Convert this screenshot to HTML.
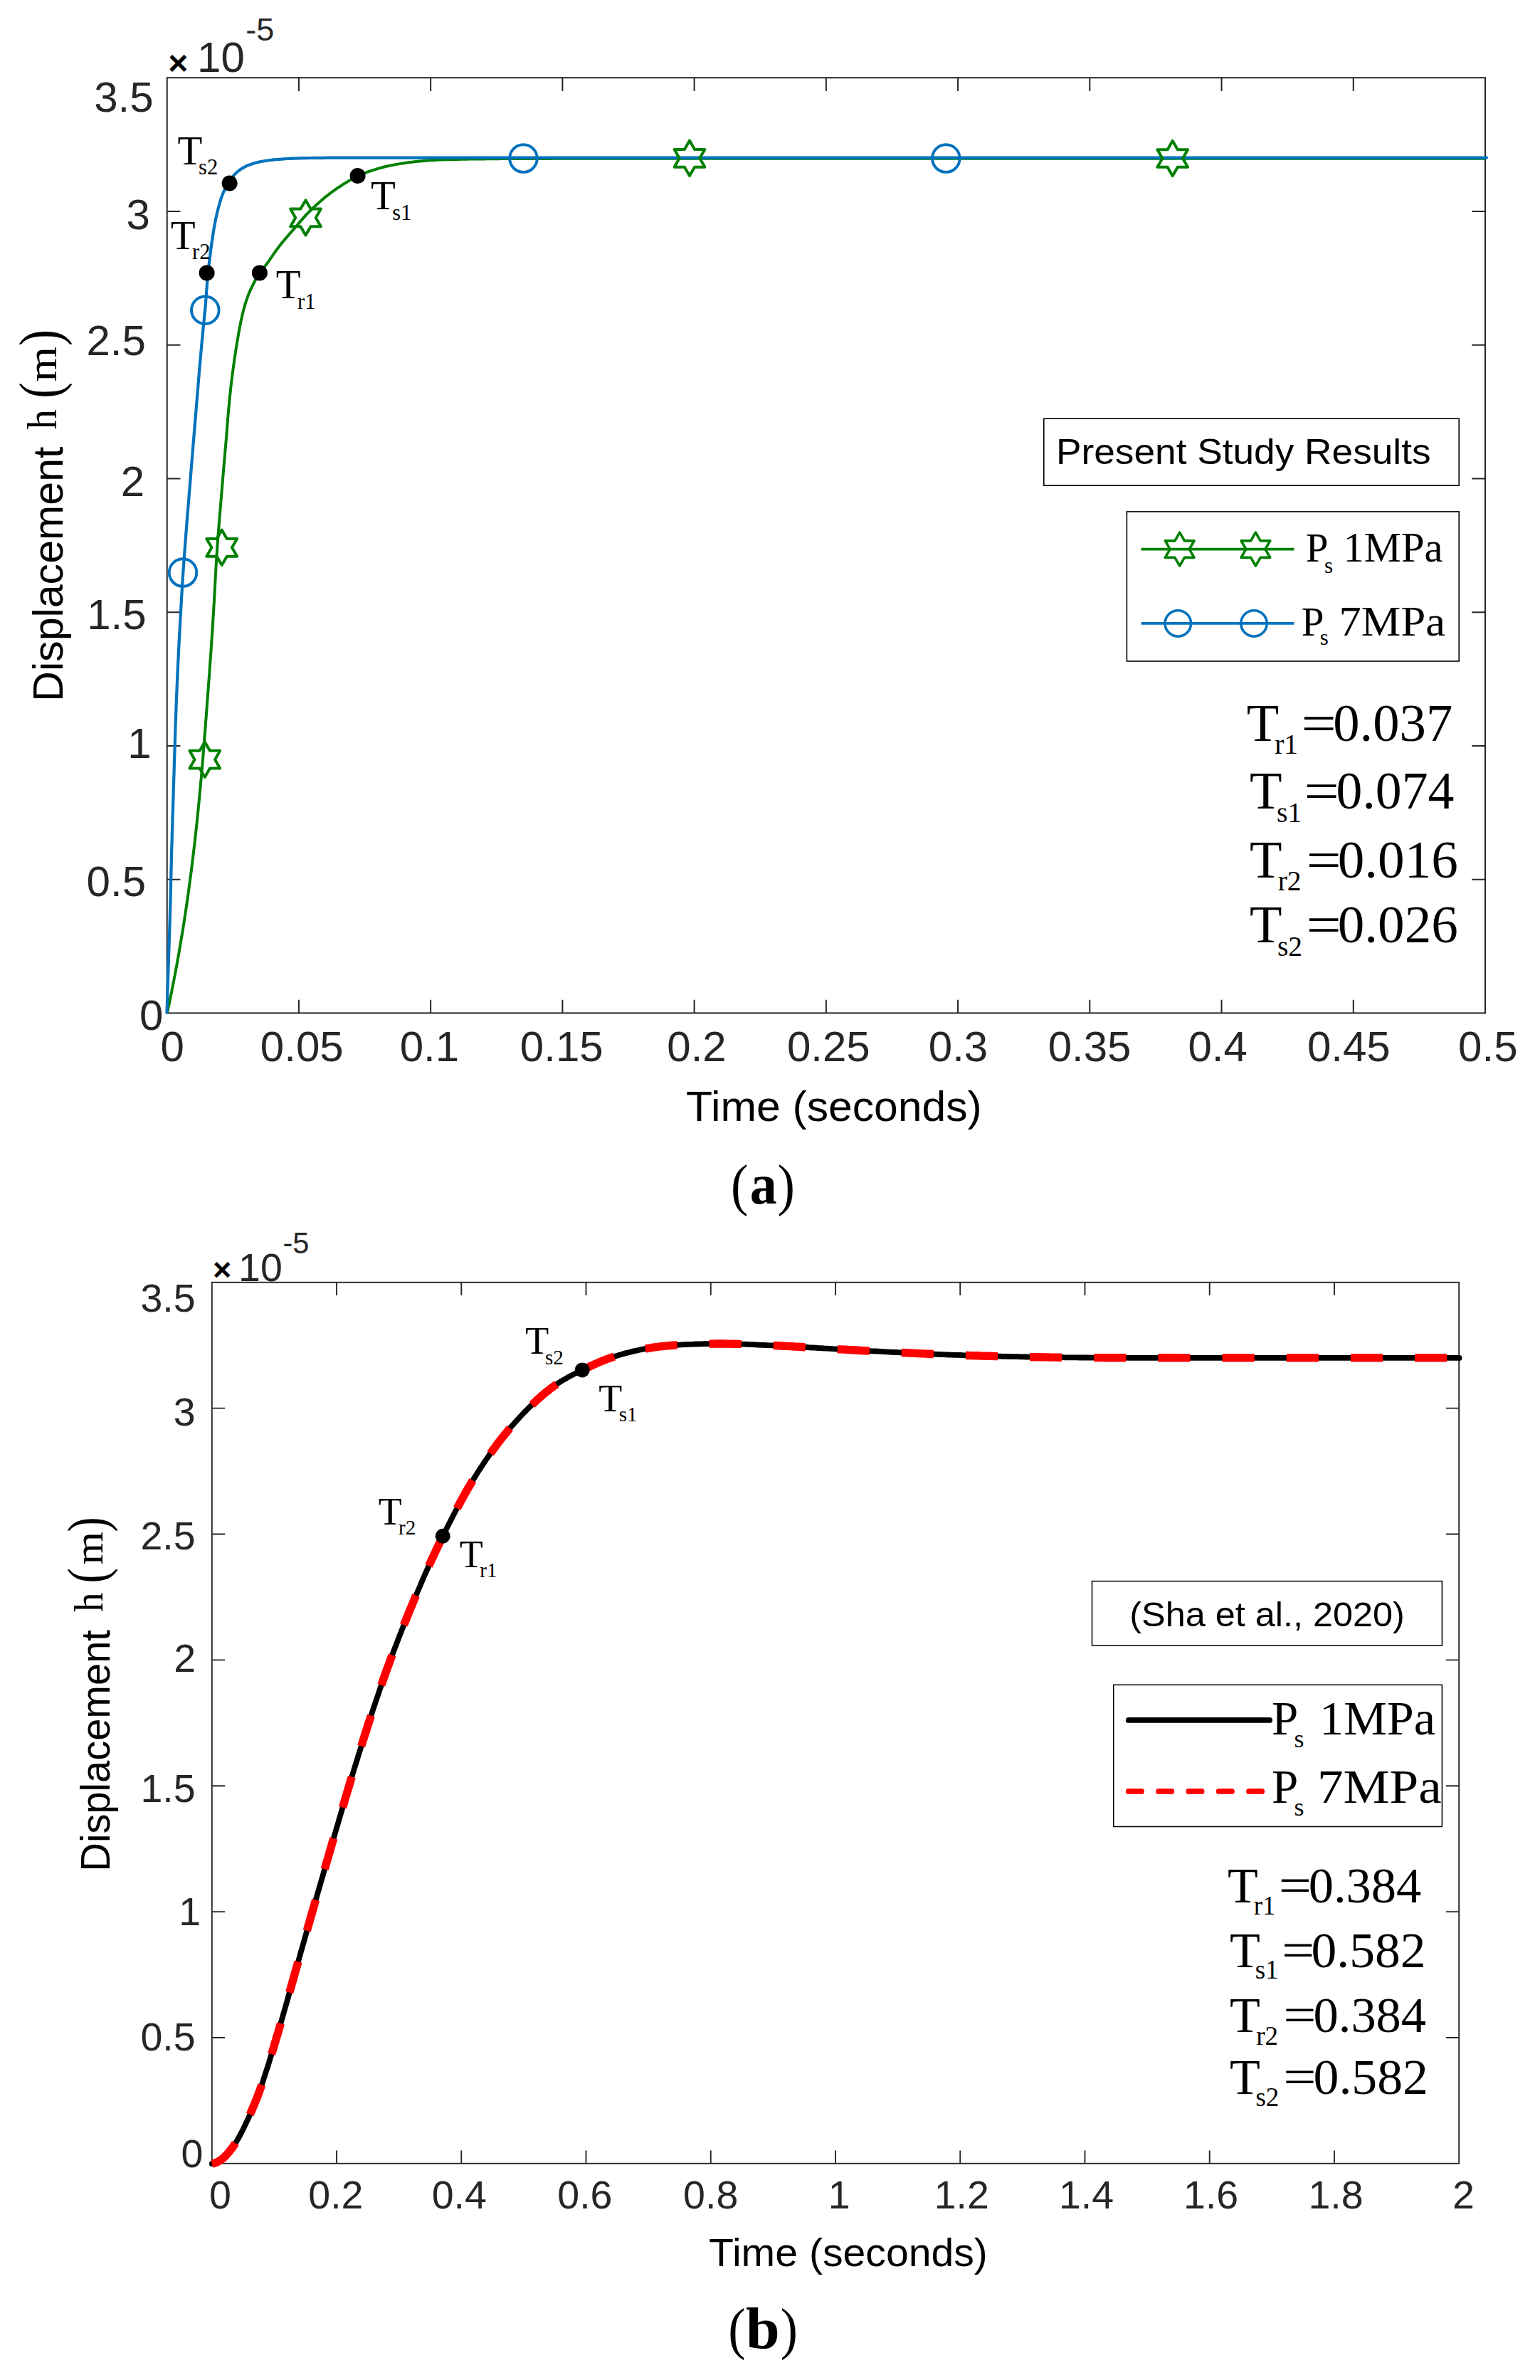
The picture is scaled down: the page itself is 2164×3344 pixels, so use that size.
<!DOCTYPE html>
<html lang="en"><head><meta charset="utf-8"><title>Displacement step response</title>
<style>html,body{margin:0;padding:0;background:#fff}svg{display:block}text{white-space:pre}</style></head>
<body>
<svg width="2164" height="3344" viewBox="0 0 2164 3344">
<rect width="2164" height="3344" fill="#fff"/>
<g id="plot-a">
<rect x="234.7" y="109.2" width="1852.3" height="1314.2" fill="none" stroke="#262626" stroke-width="2.0"/>
<path d="M419.93,1423.4 v-18.7 M419.93,109.2 v18.7 M605.16,1423.4 v-18.7 M605.16,109.2 v18.7 M790.39,1423.4 v-18.7 M790.39,109.2 v18.7 M975.62,1423.4 v-18.7 M975.62,109.2 v18.7 M1160.85,1423.4 v-18.7 M1160.85,109.2 v18.7 M1346.08,1423.4 v-18.7 M1346.08,109.2 v18.7 M1531.31,1423.4 v-18.7 M1531.31,109.2 v18.7 M1716.54,1423.4 v-18.7 M1716.54,109.2 v18.7 M1901.77,1423.4 v-18.7 M1901.77,109.2 v18.7 M234.7,1235.66 h18.7 M2087.0,1235.66 h-18.7 M234.7,1047.91 h18.7 M2087.0,1047.91 h-18.7 M234.7,860.17 h18.7 M2087.0,860.17 h-18.7 M234.7,672.43 h18.7 M2087.0,672.43 h-18.7 M234.7,484.69 h18.7 M2087.0,484.69 h-18.7 M234.7,296.94 h18.7 M2087.0,296.94 h-18.7" stroke="#262626" stroke-width="2.0" fill="none"/>
<path d="M235.0,1423.2 L235.6,1420.3 L236.2,1417.3 L236.8,1414.4 L237.5,1411.5 L238.1,1408.5 L238.7,1405.6 L239.3,1402.6 L239.9,1399.7 L240.5,1396.8 L241.1,1393.8 L241.6,1390.9 L242.2,1387.9 L242.8,1385.0 L243.4,1382.1 L244.0,1379.1 L244.5,1376.2 L245.1,1373.2 L245.7,1370.3 L246.2,1367.3 L246.8,1364.4 L247.3,1361.4 L247.9,1358.5 L248.4,1355.5 L249.0,1352.6 L249.5,1349.6 L250.0,1346.7 L250.6,1343.7 L251.1,1340.8 L251.6,1337.8 L252.1,1334.9 L252.6,1331.9 L253.1,1329.0 L253.6,1326.0 L254.1,1323.0 L254.6,1320.1 L255.1,1317.1 L255.6,1314.2 L256.1,1311.2 L256.6,1308.2 L257.1,1305.3 L257.5,1302.3 L258.0,1299.4 L258.5,1296.4 L258.9,1293.4 L259.4,1290.5 L259.8,1287.5 L260.3,1284.5 L260.7,1281.6 L261.2,1278.6 L261.6,1275.6 L262.1,1272.7 L262.5,1269.7 L262.9,1266.7 L263.4,1263.8 L263.8,1260.8 L264.2,1257.8 L264.6,1254.9 L265.0,1251.9 L265.4,1248.9 L265.8,1245.9 L266.2,1243.0 L266.6,1240.0 L267.0,1237.0 L267.4,1234.0 L267.8,1231.1 L268.2,1228.1 L268.6,1225.1 L269.0,1222.1 L269.3,1219.2 L269.7,1216.2 L270.1,1213.2 L270.4,1210.2 L270.8,1207.3 L271.2,1204.3 L271.5,1201.3 L271.9,1198.3 L272.2,1195.3 L272.6,1192.4 L272.9,1189.4 L273.3,1186.4 L273.6,1183.4 L274.0,1180.4 L274.3,1177.5 L274.6,1174.5 L275.0,1171.5 L275.3,1168.5 L275.6,1165.5 L275.9,1162.6 L276.2,1159.6 L276.6,1156.6 L276.9,1153.6 L277.2,1150.6 L277.5,1147.6 L277.8,1144.7 L278.1,1141.7 L278.4,1138.7 L278.7,1135.7 L279.0,1132.7 L279.3,1129.7 L279.6,1126.8 L279.9,1123.8 L280.2,1120.8 L280.4,1117.8 L280.7,1114.8 L281.0,1111.8 L281.3,1108.8 L281.6,1105.8 L281.8,1102.9 L282.1,1099.9 L282.4,1096.9 L282.7,1093.9 L282.9,1090.9 L283.2,1087.9 L283.4,1084.9 L283.7,1081.9 L284.0,1079.0 L284.2,1076.0 L284.5,1073.0 L284.7,1070.0 L285.0,1067.0 L285.2,1064.0 L285.5,1061.0 L285.7,1058.0 L286.0,1055.0 L286.2,1052.1 L286.4,1049.1 L286.7,1046.1 L286.9,1043.1 L287.1,1040.1 L287.4,1037.1 L287.6,1034.1 L287.8,1031.1 L288.1,1028.1 L288.3,1025.1 L288.5,1022.1 L288.8,1019.2 L289.0,1016.2 L289.2,1013.2 L289.4,1010.2 L289.7,1007.2 L289.9,1004.2 L290.1,1001.2 L290.3,998.2 L290.6,995.2 L290.8,992.2 L291.0,989.2 L291.2,986.3 L291.5,983.3 L291.7,980.3 L291.9,977.3 L292.1,974.3 L292.4,971.3 L292.6,968.3 L292.8,965.3 L293.0,962.3 L293.3,959.3 L293.5,956.3 L293.7,953.3 L293.9,950.4 L294.1,947.4 L294.4,944.4 L294.6,941.4 L294.8,938.4 L295.0,935.4 L295.2,932.4 L295.4,929.4 L295.6,926.4 L295.9,923.4 L296.1,920.4 L296.3,917.4 L296.5,914.5 L296.7,911.5 L296.9,908.5 L297.1,905.5 L297.3,902.5 L297.5,899.5 L297.7,896.5 L297.9,893.5 L298.1,890.5 L298.3,887.5 L298.5,884.5 L298.7,881.5 L298.9,878.5 L299.1,875.5 L299.2,872.5 L299.4,869.6 L299.6,866.6 L299.8,863.6 L300.0,860.6 L300.2,857.6 L300.3,854.6 L300.5,851.6 L300.7,848.6 L300.9,845.6 L301.0,842.6 L301.2,839.6 L301.4,836.6 L301.5,833.6 L301.7,830.6 L301.9,827.6 L302.0,824.6 L302.2,821.6 L302.3,818.6 L302.5,815.7 L302.7,812.7 L302.8,809.7 L303.0,806.7 L303.1,803.7 L303.3,800.7 L303.5,797.7 L303.7,794.7 L303.8,791.7 L304.0,788.7 L304.2,785.7 L304.4,782.7 L304.6,779.7 L304.8,776.7 L305.0,773.7 L305.2,770.7 L305.4,767.8 L305.6,764.8 L305.8,761.8 L306.0,758.8 L306.3,755.8 L306.5,752.8 L306.7,749.8 L307.0,746.8 L307.2,743.8 L307.4,740.8 L307.7,737.8 L307.9,734.9 L308.1,731.9 L308.4,728.9 L308.6,725.9 L308.9,722.9 L309.1,719.9 L309.4,716.9 L309.6,713.9 L309.9,710.9 L310.1,707.9 L310.4,705.0 L310.6,702.0 L310.9,699.0 L311.1,696.0 L311.4,693.0 L311.6,690.0 L311.9,687.0 L312.1,684.0 L312.4,681.0 L312.6,678.1 L312.9,675.1 L313.1,672.1 L313.4,669.1 L313.6,666.1 L313.9,663.1 L314.1,660.1 L314.4,657.1 L314.6,654.1 L314.9,651.2 L315.1,648.2 L315.4,645.2 L315.7,642.2 L315.9,639.2 L316.2,636.2 L316.4,633.2 L316.7,630.2 L317.0,627.2 L317.2,624.3 L317.5,621.3 L317.8,618.3 L318.0,615.3 L318.3,612.3 L318.5,609.3 L318.7,606.3 L319.0,603.3 L319.2,600.3 L319.4,597.3 L319.6,594.4 L319.9,591.4 L320.1,588.4 L320.4,585.4 L320.6,582.4 L320.9,579.4 L321.1,576.4 L321.4,573.4 L321.7,570.4 L322.0,567.5 L322.2,564.5 L322.5,561.5 L322.8,558.5 L323.1,555.5 L323.5,552.5 L323.8,549.6 L324.1,546.6 L324.4,543.6 L324.8,540.6 L325.1,537.6 L325.5,534.7 L325.9,531.7 L326.2,528.7 L326.6,525.7 L327.0,522.7 L327.4,519.8 L327.8,516.8 L328.2,513.8 L328.6,510.9 L329.0,507.9 L329.4,504.9 L329.9,502.0 L330.3,499.0 L330.8,496.0 L331.2,493.1 L331.7,490.1 L332.1,487.1 L332.6,484.2 L333.1,481.2 L333.6,478.2 L334.1,475.3 L334.6,472.3 L335.1,469.4 L335.6,466.4 L336.2,463.5 L336.7,460.5 L337.3,457.6 L337.9,454.6 L338.5,451.7 L339.1,448.7 L339.8,445.8 L340.4,442.9 L341.1,440.0 L341.8,437.1 L342.6,434.2 L343.4,431.3 L344.2,428.4 L345.1,425.5 L346.0,422.7 L347.0,419.8 L348.0,417.0 L349.0,414.2 L350.2,411.4 L351.3,408.7 L352.6,405.9 L353.8,403.2 L355.2,400.6 L356.5,397.9 L358.0,395.2 L359.4,392.6 L360.9,390.0 L362.5,387.5 L364.2,385.0 L365.9,382.6 L367.7,380.2 L369.5,377.8 L371.3,375.4 L373.1,373.1 L374.9,370.7 L376.7,368.3 L378.4,365.8 L380.1,363.4 L381.8,360.9 L383.5,358.4 L385.2,355.9 L386.9,353.5 L388.7,351.0 L390.5,348.6 L392.3,346.2 L394.1,343.9 L395.9,341.5 L397.8,339.2 L399.8,336.9 L401.7,334.6 L403.7,332.3 L405.7,330.1 L407.6,327.8 L409.6,325.6 L411.6,323.3 L413.6,321.1 L415.5,318.8 L417.5,316.5 L419.4,314.2 L421.4,311.9 L423.3,309.7 L425.3,307.4 L427.3,305.2 L429.3,302.9 L431.3,300.7 L433.4,298.6 L435.5,296.5 L437.6,294.3 L439.8,292.3 L442.0,290.2 L444.2,288.2 L446.4,286.2 L448.7,284.2 L450.9,282.2 L453.2,280.3 L455.5,278.3 L457.8,276.4 L460.2,274.6 L462.5,272.7 L464.9,270.9 L467.3,269.1 L469.8,267.4 L472.2,265.6 L474.7,263.9 L477.2,262.3 L479.7,260.6 L482.2,259.0 L484.7,257.4 L487.3,255.9 L489.9,254.3 L492.5,252.8 L495.1,251.4 L497.7,249.9 L500.4,248.5 L503.1,247.2 L505.8,246.0 L508.5,244.8 L511.3,243.7 L514.1,242.6 L516.9,241.5 L519.7,240.5 L522.6,239.6 L525.4,238.7 L528.3,237.8 L531.2,236.9 L534.0,236.1 L536.9,235.3 L539.8,234.5 L542.7,233.8 L545.7,233.2 L548.6,232.6 L551.5,232.0 L554.5,231.4 L557.4,230.9 L560.4,230.4 L563.3,229.9 L566.3,229.4 L569.3,229.0 L572.2,228.5 L575.2,228.1 L578.2,227.8 L581.2,227.4 L584.2,227.1 L587.1,226.8 L590.1,226.5 L593.1,226.3 L596.1,226.0 L599.1,225.8 L602.1,225.5 L605.1,225.3 L608.1,225.1 L611.1,224.9 L614.1,224.8 L617.0,224.6 L620.0,224.5 L623.0,224.4 L626.0,224.3 L629.0,224.2 L632.0,224.1 L635.0,224.0 L638.0,224.0 L641.0,223.9 L644.0,223.9 L647.0,223.8 L650.0,223.8 L653.0,223.7 L656.0,223.7 L659.0,223.6 L662.0,223.6 L665.0,223.6 L668.0,223.5 L671.0,223.5 L674.0,223.4 L677.0,223.4 L680.0,223.4 L683.0,223.3 L686.0,223.3 L689.0,223.3 L692.0,223.2 L695.0,223.2 L698.0,223.2 L701.0,223.2 L704.0,223.1 L707.0,223.1 L710.0,223.1 L713.0,223.1 L716.0,223.1 L719.0,223.0 L722.0,223.0 L725.0,223.0 L728.0,223.0 L731.0,223.0 L734.0,223.0 L737.0,223.0 L740.0,222.9 L743.0,222.9 L746.0,222.9 L749.0,222.9 L752.0,222.9 L755.0,222.9 L758.0,222.9 L761.0,222.9 L764.0,222.9 L767.0,222.9 L770.0,222.9 L773.0,222.9 L776.0,222.8 L779.0,222.8 L782.0,222.8 L785.0,222.8 L788.0,222.8 L791.0,222.8 L794.0,222.8 L797.0,222.8 L800.0,222.8 L803.0,222.8 L806.0,222.8 L809.0,222.8 L812.0,222.8 L815.0,222.8 L818.0,222.8 L821.0,222.8 L824.0,222.8 L827.0,222.8 L830.0,222.8 L833.0,222.8 L836.0,222.8 L839.0,222.8 L842.0,222.8 L845.0,222.8 L848.0,222.8 L851.0,222.8 L854.0,222.8 L857.0,222.8 L860.0,222.8 L863.0,222.8 L866.0,222.8 L869.0,222.8 L872.0,222.8 L875.0,222.8 L878.0,222.8 L881.0,222.8 L884.0,222.8 L887.0,222.8 L890.0,222.8 L893.0,222.8 L896.0,222.8 L899.0,222.8 L900.0,222.8 L2087.0,222.8" fill="none" stroke="#008000" stroke-width="4" stroke-linejoin="round"/>
<path d="M234.5,1422.6 L234.6,1419.6 L234.7,1416.6 L234.8,1413.6 L234.9,1410.6 L235.0,1407.6 L235.0,1404.6 L235.1,1401.6 L235.2,1398.6 L235.3,1395.6 L235.4,1392.6 L235.5,1389.6 L235.6,1386.6 L235.7,1383.6 L235.8,1380.6 L235.9,1377.6 L236.0,1374.6 L236.1,1371.6 L236.2,1368.6 L236.3,1365.6 L236.4,1362.6 L236.5,1359.6 L236.6,1356.6 L236.7,1353.6 L236.8,1350.6 L236.9,1347.6 L237.0,1344.6 L237.1,1341.6 L237.2,1338.6 L237.3,1335.6 L237.4,1332.6 L237.5,1329.6 L237.6,1326.6 L237.7,1323.6 L237.8,1320.6 L237.9,1317.6 L238.0,1314.6 L238.1,1311.6 L238.2,1308.6 L238.3,1305.6 L238.4,1302.6 L238.5,1299.6 L238.6,1296.6 L238.7,1293.6 L238.8,1290.6 L238.9,1287.6 L238.9,1284.6 L239.0,1281.6 L239.1,1278.6 L239.2,1275.6 L239.3,1272.6 L239.4,1269.6 L239.4,1266.6 L239.5,1263.6 L239.6,1260.6 L239.7,1257.6 L239.7,1254.6 L239.8,1251.6 L239.9,1248.6 L240.0,1245.6 L240.0,1242.6 L240.1,1239.6 L240.2,1236.6 L240.2,1233.6 L240.3,1230.6 L240.4,1227.6 L240.5,1224.6 L240.5,1221.6 L240.6,1218.6 L240.7,1215.6 L240.8,1212.6 L240.8,1209.6 L240.9,1206.6 L241.0,1203.6 L241.1,1200.6 L241.1,1197.6 L241.2,1194.6 L241.3,1191.6 L241.4,1188.6 L241.5,1185.7 L241.6,1182.7 L241.7,1179.7 L241.7,1176.7 L241.8,1173.7 L241.9,1170.7 L242.0,1167.7 L242.1,1164.7 L242.2,1161.7 L242.3,1158.7 L242.4,1155.7 L242.5,1152.7 L242.5,1149.7 L242.6,1146.7 L242.7,1143.7 L242.8,1140.7 L242.9,1137.7 L243.0,1134.7 L243.1,1131.7 L243.2,1128.7 L243.3,1125.7 L243.4,1122.7 L243.5,1119.7 L243.6,1116.7 L243.6,1113.7 L243.7,1110.7 L243.8,1107.7 L243.9,1104.7 L244.0,1101.7 L244.1,1098.7 L244.2,1095.7 L244.3,1092.7 L244.4,1089.7 L244.5,1086.7 L244.6,1083.7 L244.7,1080.7 L244.8,1077.7 L244.8,1074.7 L244.9,1071.7 L245.0,1068.7 L245.1,1065.7 L245.2,1062.7 L245.3,1059.7 L245.4,1056.7 L245.5,1053.7 L245.6,1050.7 L245.7,1047.7 L245.8,1044.7 L245.9,1041.7 L246.0,1038.7 L246.1,1035.7 L246.2,1032.7 L246.2,1029.7 L246.3,1026.7 L246.4,1023.7 L246.5,1020.7 L246.6,1017.7 L246.7,1014.7 L246.9,1011.7 L247.0,1008.7 L247.1,1005.7 L247.2,1002.7 L247.3,999.7 L247.4,996.7 L247.5,993.7 L247.6,990.7 L247.7,987.7 L247.9,984.7 L248.0,981.7 L248.1,978.7 L248.2,975.7 L248.4,972.7 L248.5,969.7 L248.6,966.7 L248.7,963.7 L248.9,960.7 L249.0,957.7 L249.1,954.7 L249.3,951.7 L249.4,948.7 L249.5,945.7 L249.7,942.7 L249.8,939.7 L249.9,936.7 L250.1,933.7 L250.2,930.7 L250.4,927.7 L250.5,924.8 L250.7,921.8 L250.8,918.8 L251.0,915.8 L251.1,912.8 L251.3,909.8 L251.4,906.8 L251.6,903.8 L251.7,900.8 L251.9,897.8 L252.0,894.8 L252.2,891.8 L252.4,888.8 L252.5,885.8 L252.7,882.8 L252.9,879.8 L253.0,876.8 L253.2,873.8 L253.3,870.8 L253.5,867.8 L253.7,864.8 L253.8,861.8 L254.0,858.8 L254.2,855.8 L254.4,852.8 L254.5,849.8 L254.7,846.8 L254.9,843.9 L255.0,840.9 L255.2,837.9 L255.4,834.9 L255.6,831.9 L255.8,828.9 L256.0,825.9 L256.1,822.9 L256.3,819.9 L256.5,816.9 L256.7,813.9 L256.9,810.9 L257.1,807.9 L257.3,804.9 L257.5,801.9 L257.7,798.9 L257.9,795.9 L258.1,792.9 L258.3,790.0 L258.6,787.0 L258.8,784.0 L259.0,781.0 L259.2,778.0 L259.4,775.0 L259.7,772.0 L259.9,769.0 L260.1,766.0 L260.3,763.0 L260.6,760.0 L260.8,757.0 L261.0,754.0 L261.2,751.1 L261.5,748.1 L261.7,745.1 L262.0,742.1 L262.2,739.1 L262.4,736.1 L262.7,733.1 L262.9,730.1 L263.1,727.1 L263.4,724.1 L263.6,721.1 L263.9,718.1 L264.1,715.2 L264.4,712.2 L264.6,709.2 L264.9,706.2 L265.1,703.2 L265.4,700.2 L265.6,697.2 L265.8,694.2 L266.1,691.2 L266.3,688.2 L266.6,685.3 L266.8,682.3 L267.1,679.3 L267.3,676.3 L267.6,673.3 L267.8,670.3 L268.0,667.3 L268.3,664.3 L268.5,661.3 L268.8,658.3 L269.0,655.3 L269.2,652.4 L269.5,649.4 L269.7,646.4 L270.0,643.4 L270.2,640.4 L270.5,637.4 L270.7,634.4 L270.9,631.4 L271.2,628.4 L271.4,625.4 L271.7,622.4 L271.9,619.5 L272.2,616.5 L272.4,613.5 L272.7,610.5 L272.9,607.5 L273.2,604.5 L273.4,601.5 L273.7,598.5 L273.9,595.5 L274.2,592.5 L274.4,589.6 L274.7,586.6 L274.9,583.6 L275.2,580.6 L275.4,577.6 L275.7,574.6 L275.9,571.6 L276.1,568.6 L276.4,565.6 L276.6,562.6 L276.9,559.6 L277.1,556.7 L277.4,553.7 L277.6,550.7 L277.9,547.7 L278.1,544.7 L278.4,541.7 L278.6,538.7 L278.9,535.7 L279.1,532.7 L279.4,529.7 L279.6,526.8 L279.9,523.8 L280.1,520.8 L280.4,517.8 L280.6,514.8 L280.9,511.8 L281.2,508.8 L281.4,505.8 L281.7,502.8 L282.0,499.8 L282.2,496.9 L282.5,493.9 L282.8,490.9 L283.1,487.9 L283.3,484.9 L283.6,481.9 L283.9,478.9 L284.2,475.9 L284.5,473.0 L284.8,470.0 L285.0,467.0 L285.3,464.0 L285.6,461.0 L285.9,458.0 L286.2,455.0 L286.5,452.1 L286.8,449.1 L287.1,446.1 L287.4,443.1 L287.7,440.1 L288.0,437.1 L288.3,434.1 L288.5,431.2 L288.8,428.2 L289.0,425.2 L289.2,422.2 L289.5,419.2 L289.7,416.2 L289.9,413.2 L290.1,410.2 L290.3,407.2 L290.6,404.2 L290.8,401.2 L291.0,398.2 L291.3,395.3 L291.6,392.3 L291.9,389.3 L292.2,386.3 L292.5,383.3 L292.8,380.3 L293.1,377.3 L293.4,374.4 L293.7,371.4 L294.1,368.4 L294.4,365.4 L294.8,362.4 L295.2,359.5 L295.5,356.5 L295.9,353.5 L296.3,350.5 L296.7,347.5 L297.1,344.6 L297.5,341.6 L297.9,338.6 L298.4,335.7 L298.8,332.7 L299.3,329.7 L299.7,326.8 L300.2,323.8 L300.7,320.8 L301.2,317.9 L301.8,314.9 L302.3,312.0 L302.9,309.0 L303.5,306.1 L304.2,303.2 L304.8,300.2 L305.5,297.3 L306.2,294.4 L307.0,291.5 L307.8,288.6 L308.6,285.7 L309.4,282.8 L310.3,280.0 L311.3,277.1 L312.3,274.3 L313.4,271.5 L314.6,268.8 L315.8,266.1 L317.1,263.4 L318.5,260.7 L320.0,258.1 L321.6,255.6 L323.3,253.1 L325.0,250.7 L326.9,248.3 L328.8,246.1 L330.9,243.9 L333.0,241.9 L335.3,240.0 L337.7,238.2 L340.2,236.6 L342.7,235.1 L345.4,233.7 L348.1,232.5 L350.9,231.4 L353.7,230.4 L356.5,229.5 L359.4,228.7 L362.3,228.0 L365.3,227.3 L368.2,226.7 L371.2,226.2 L374.1,225.8 L377.1,225.3 L380.1,225.0 L383.1,224.6 L386.0,224.3 L389.0,224.0 L392.0,223.8 L395.0,223.6 L398.0,223.3 L401.0,223.2 L404.0,223.0 L407.0,222.9 L410.0,222.7 L413.0,222.6 L416.0,222.5 L419.0,222.4 L422.0,222.3 L425.0,222.2 L428.0,222.1 L431.0,222.1 L434.0,222.0 L437.0,222.0 L440.0,221.9 L443.0,221.9 L446.0,221.9 L449.0,221.8 L452.0,221.8 L455.0,221.8 L458.0,221.7 L461.0,221.7 L464.0,221.7 L467.0,221.7 L470.0,221.7 L473.0,221.7 L476.0,221.7 L479.0,221.7 L482.0,221.6 L485.0,221.6 L488.0,221.6 L491.0,221.6 L494.0,221.6 L497.0,221.6 L500.0,221.6 L503.0,221.6 L506.0,221.6 L509.0,221.6 L512.0,221.6 L515.0,221.6 L518.0,221.6 L521.0,221.6 L524.0,221.6 L527.0,221.6 L530.0,221.6 L533.0,221.6 L536.0,221.6 L539.0,221.6 L542.0,221.6 L545.0,221.6 L548.0,221.6 L550.0,221.6 L2089.0,221.6" fill="none" stroke="#0072BD" stroke-width="4.2" stroke-linejoin="round" stroke-linecap="round"/>
<polygon points="287.80,1042.50 280.67,1054.85 266.41,1054.85 273.54,1067.20 266.41,1079.55 280.67,1079.55 287.80,1091.90 294.93,1079.55 309.19,1079.55 302.06,1067.20 309.19,1054.85 294.93,1054.85" fill="none" stroke="#008000" stroke-width="4" stroke-linejoin="round"/>
<polygon points="311.70,744.60 304.57,756.95 290.31,756.95 297.44,769.30 290.31,781.65 304.57,781.65 311.70,794.00 318.83,781.65 333.09,781.65 325.96,769.30 333.09,756.95 318.83,756.95" fill="none" stroke="#008000" stroke-width="4" stroke-linejoin="round"/>
<polygon points="429.50,281.20 422.37,293.55 408.11,293.55 415.24,305.90 408.11,318.25 422.37,318.25 429.50,330.60 436.63,318.25 450.89,318.25 443.76,305.90 450.89,293.55 436.63,293.55" fill="none" stroke="#008000" stroke-width="4" stroke-linejoin="round"/>
<polygon points="969.00,197.60 961.87,209.95 947.61,209.95 954.74,222.30 947.61,234.65 961.87,234.65 969.00,247.00 976.13,234.65 990.39,234.65 983.26,222.30 990.39,209.95 976.13,209.95" fill="none" stroke="#008000" stroke-width="4" stroke-linejoin="round"/>
<polygon points="1647.70,197.80 1640.57,210.15 1626.31,210.15 1633.44,222.50 1626.31,234.85 1640.57,234.85 1647.70,247.20 1654.83,234.85 1669.09,234.85 1661.96,222.50 1669.09,210.15 1654.83,210.15" fill="none" stroke="#008000" stroke-width="4" stroke-linejoin="round"/>
<circle cx="257.00" cy="804.60" r="19.3" fill="none" stroke="#0072BD" stroke-width="3.9"/>
<circle cx="288.30" cy="435.80" r="19.3" fill="none" stroke="#0072BD" stroke-width="3.9"/>
<circle cx="735.50" cy="222.60" r="19.3" fill="none" stroke="#0072BD" stroke-width="3.9"/>
<circle cx="1329.30" cy="222.60" r="19.3" fill="none" stroke="#0072BD" stroke-width="3.9"/>
<text x="132.18" y="156.53" font-family="'Liberation Sans', sans-serif" font-weight="normal" font-size="60.00" fill="#262626">3.5</text>
<text x="177.50" y="322.23" font-family="'Liberation Sans', sans-serif" font-weight="normal" font-size="60.00" fill="#262626">3</text>
<text x="121.50" y="498.73" font-family="'Liberation Sans', sans-serif" font-weight="normal" font-size="60.00" fill="#262626">2.5</text>
<text x="169.85" y="696.62" font-family="'Liberation Sans', sans-serif" font-weight="normal" font-size="60.00" fill="#262626">2</text>
<text x="122.25" y="884.43" font-family="'Liberation Sans', sans-serif" font-weight="normal" font-size="60.00" fill="#262626">1.5</text>
<text x="179.33" y="1064.53" font-family="'Liberation Sans', sans-serif" font-weight="normal" font-size="60.00" fill="#262626">1</text>
<text x="121.60" y="1259.12" font-family="'Liberation Sans', sans-serif" font-weight="normal" font-size="60.00" fill="#262626">0.5</text>
<text x="196.08" y="1446.92" font-family="'Liberation Sans', sans-serif" font-weight="normal" font-size="60.00" fill="#262626">0</text>
<text x="225.47" y="1490.62" font-family="'Liberation Sans', sans-serif" font-weight="normal" font-size="60.00" fill="#262626">0</text>
<text x="365.85" y="1490.62" font-family="'Liberation Sans', sans-serif" font-weight="normal" font-size="60.00" fill="#262626">0.05</text>
<text x="561.73" y="1490.62" font-family="'Liberation Sans', sans-serif" font-weight="normal" font-size="60.00" fill="#262626">0.1</text>
<text x="730.85" y="1490.62" font-family="'Liberation Sans', sans-serif" font-weight="normal" font-size="60.00" fill="#262626">0.15</text>
<text x="937.30" y="1490.62" font-family="'Liberation Sans', sans-serif" font-weight="normal" font-size="60.00" fill="#262626">0.2</text>
<text x="1105.95" y="1490.62" font-family="'Liberation Sans', sans-serif" font-weight="normal" font-size="60.00" fill="#262626">0.25</text>
<text x="1304.78" y="1490.62" font-family="'Liberation Sans', sans-serif" font-weight="normal" font-size="60.00" fill="#262626">0.3</text>
<text x="1472.65" y="1490.62" font-family="'Liberation Sans', sans-serif" font-weight="normal" font-size="60.00" fill="#262626">0.35</text>
<text x="1669.42" y="1490.62" font-family="'Liberation Sans', sans-serif" font-weight="normal" font-size="60.00" fill="#262626">0.4</text>
<text x="1836.95" y="1490.62" font-family="'Liberation Sans', sans-serif" font-weight="normal" font-size="60.00" fill="#262626">0.45</text>
<text x="2049.10" y="1490.62" font-family="'Liberation Sans', sans-serif" font-weight="normal" font-size="60.00" fill="#262626">0.5</text>
<text x="236.16" y="104.96" font-family="'Liberation Sans', sans-serif" font-weight="bold" font-size="48.00" fill="#000">×</text>
<text x="277.07" y="100.90" font-family="'Liberation Sans', sans-serif" font-weight="normal" font-size="60.00" fill="#262626">10</text>
<text x="345.22" y="56.75" font-family="'Liberation Sans', sans-serif" font-weight="normal" font-size="45.00" fill="#262626">-5</text>
<text x="964.14" y="1575.30" font-family="'Liberation Sans', sans-serif" font-weight="normal" font-size="60.00" fill="#000" textLength="415.57" lengthAdjust="spacingAndGlyphs">Time (seconds)</text>
<text transform="matrix(0.7301,0,0,0.8022,1027.10,1691.75)" x="0" y="0" font-family="'Liberation Serif', serif" font-weight="normal" font-size="100" fill="#000">(</text>
<text transform="matrix(0.7602,0,0,0.8063,1053.73,1691.39)" x="0" y="0" font-family="'Liberation Serif', serif" font-weight="bold" font-size="100" fill="#000">a</text>
<text transform="matrix(0.7340,0,0,0.8022,1092.51,1691.75)" x="0" y="0" font-family="'Liberation Serif', serif" font-weight="normal" font-size="100" fill="#000">)</text>
<g transform="matrix(0,-1,1,0,0,0)">
<text x="-985.78" y="87.60" font-family="'Liberation Sans', sans-serif" font-weight="normal" font-size="60.00" fill="#000" textLength="358.26" lengthAdjust="spacingAndGlyphs">Displacement</text>
<text x="-603.57" y="78.80" font-family="'Liberation Serif', serif" font-weight="normal" font-size="60.00" fill="#000" textLength="28.27" lengthAdjust="spacingAndGlyphs">h</text>
<text x="-536.27" y="78.80" font-family="'Liberation Serif', serif" font-weight="normal" font-size="60.00" fill="#000" textLength="49.24" lengthAdjust="spacingAndGlyphs">m</text>
<text transform="matrix(0.6718,0,0,0.8264,-559.86,83.94)" x="0" y="0" font-family="'Liberation Serif', serif" font-weight="normal" font-size="100" fill="#000">(</text>
<text transform="matrix(0.6913,0,0,0.8264,-486.05,83.94)" x="0" y="0" font-family="'Liberation Serif', serif" font-weight="normal" font-size="100" fill="#000">)</text>
</g>
<text x="249.60" y="230.60" font-family="'Liberation Serif', serif" font-weight="normal" font-size="57.00" fill="#000">T</text>
<text x="279.08" y="245.00" font-family="'Liberation Serif', serif" font-weight="normal" font-size="30.50" fill="#000">s2</text>
<text x="239.80" y="350.10" font-family="'Liberation Serif', serif" font-weight="normal" font-size="57.00" fill="#000">T</text>
<text x="269.99" y="364.40" font-family="'Liberation Serif', serif" font-weight="normal" font-size="30.50" fill="#000">r2</text>
<text x="387.80" y="419.00" font-family="'Liberation Serif', serif" font-weight="normal" font-size="57.00" fill="#000">T</text>
<text x="418.09" y="434.00" font-family="'Liberation Serif', serif" font-weight="normal" font-size="30.50" fill="#000">r1</text>
<text x="521.00" y="293.80" font-family="'Liberation Serif', serif" font-weight="normal" font-size="57.00" fill="#000">T</text>
<text x="551.28" y="308.60" font-family="'Liberation Serif', serif" font-weight="normal" font-size="30.50" fill="#000">s1</text>
<circle cx="322.60" cy="257.40" r="11" fill="#000"/>
<circle cx="290.60" cy="383.40" r="11" fill="#000"/>
<circle cx="364.90" cy="383.40" r="11" fill="#000"/>
<circle cx="502.60" cy="247.00" r="11" fill="#000"/>
<rect x="1466.8" y="588.2" width="583.4" height="94.0" fill="#fff" stroke="#000" stroke-width="1.6"/>
<text x="1484.01" y="651.70" font-family="'Liberation Sans', sans-serif" font-weight="normal" font-size="50.50" fill="#000" textLength="526.58" lengthAdjust="spacingAndGlyphs">Present Study Results</text>
<rect x="1583.4" y="718.9" width="466.8" height="210.1" fill="#fff" stroke="#000" stroke-width="1.6"/>
<path d="M1603.6,771.6 H1818.4" stroke="#008000" stroke-width="3.6" fill="none"/>
<polygon points="1657.70,748.10 1650.92,759.85 1637.35,759.85 1644.13,771.60 1637.35,783.35 1650.92,783.35 1657.70,795.10 1664.48,783.35 1678.05,783.35 1671.27,771.60 1678.05,759.85 1664.48,759.85" fill="none" stroke="#008000" stroke-width="3.6" stroke-linejoin="round"/>
<polygon points="1764.40,748.10 1757.62,759.85 1744.05,759.85 1750.83,771.60 1744.05,783.35 1757.62,783.35 1764.40,795.10 1771.18,783.35 1784.75,783.35 1777.97,771.60 1784.75,759.85 1771.18,759.85" fill="none" stroke="#008000" stroke-width="3.6" stroke-linejoin="round"/>
<path d="M1603.6,875.9 H1818.4" stroke="#0072BD" stroke-width="3.6" fill="none"/>
<circle cx="1655.30" cy="875.90" r="18.2" fill="none" stroke="#0072BD" stroke-width="3.6"/>
<circle cx="1762.00" cy="875.90" r="18.2" fill="none" stroke="#0072BD" stroke-width="3.6"/>
<text x="1834.73" y="789.40" font-family="'Liberation Serif', serif" font-weight="normal" font-size="57.00" fill="#000">P</text>
<text x="1860.96" y="804.50" font-family="'Liberation Serif', serif" font-weight="normal" font-size="31.00" fill="#000">s</text>
<text x="1887.57" y="789.40" font-family="'Liberation Serif', serif" font-weight="normal" font-size="58.50" fill="#000" textLength="139.95" lengthAdjust="spacingAndGlyphs">1MPa</text>
<text x="1828.63" y="892.80" font-family="'Liberation Serif', serif" font-weight="normal" font-size="57.00" fill="#000">P</text>
<text x="1854.76" y="905.50" font-family="'Liberation Serif', serif" font-weight="normal" font-size="31.00" fill="#000">s</text>
<text x="1881.64" y="892.80" font-family="'Liberation Serif', serif" font-weight="normal" font-size="58.50" fill="#000" textLength="149.24" lengthAdjust="spacingAndGlyphs">7MPa</text>
<text x="1751.80" y="1041.30" font-family="'Liberation Serif', serif" font-weight="normal" font-size="74.50" fill="#000">T</text>
<text x="1791.21" y="1059.40" font-family="'Liberation Serif', serif" font-weight="normal" font-size="39.50" fill="#000">r1</text>
<text x="1828.53" y="1041.30" font-family="'Liberation Serif', serif" font-weight="normal" font-size="74.50" fill="#000" textLength="49.24" lengthAdjust="spacingAndGlyphs">=</text>
<text x="1873.30" y="1041.30" font-family="'Liberation Serif', serif" font-weight="normal" font-size="74.50" fill="#000" textLength="167.95" lengthAdjust="spacingAndGlyphs">0.037</text>
<text x="1755.90" y="1135.80" font-family="'Liberation Serif', serif" font-weight="normal" font-size="74.50" fill="#000">T</text>
<text x="1794.12" y="1154.50" font-family="'Liberation Serif', serif" font-weight="normal" font-size="39.50" fill="#000">s1</text>
<text x="1832.63" y="1135.80" font-family="'Liberation Serif', serif" font-weight="normal" font-size="74.50" fill="#000" textLength="49.24" lengthAdjust="spacingAndGlyphs">=</text>
<text x="1877.54" y="1135.80" font-family="'Liberation Serif', serif" font-weight="normal" font-size="74.50" fill="#000" textLength="165.87" lengthAdjust="spacingAndGlyphs">0.074</text>
<text x="1756.10" y="1232.60" font-family="'Liberation Serif', serif" font-weight="normal" font-size="74.50" fill="#000">T</text>
<text x="1795.71" y="1251.30" font-family="'Liberation Serif', serif" font-weight="normal" font-size="39.50" fill="#000">r2</text>
<text x="1835.63" y="1232.60" font-family="'Liberation Serif', serif" font-weight="normal" font-size="74.50" fill="#000" textLength="49.24" lengthAdjust="spacingAndGlyphs">=</text>
<text x="1879.78" y="1232.60" font-family="'Liberation Serif', serif" font-weight="normal" font-size="74.50" fill="#000" textLength="169.07" lengthAdjust="spacingAndGlyphs">0.016</text>
<text x="1756.10" y="1323.80" font-family="'Liberation Serif', serif" font-weight="normal" font-size="74.50" fill="#000">T</text>
<text x="1794.92" y="1342.50" font-family="'Liberation Serif', serif" font-weight="normal" font-size="39.50" fill="#000">s2</text>
<text x="1835.63" y="1323.80" font-family="'Liberation Serif', serif" font-weight="normal" font-size="74.50" fill="#000" textLength="49.24" lengthAdjust="spacingAndGlyphs">=</text>
<text x="1879.78" y="1323.80" font-family="'Liberation Serif', serif" font-weight="normal" font-size="74.50" fill="#000" textLength="169.07" lengthAdjust="spacingAndGlyphs">0.026</text>
</g>
<g id="plot-b">
<rect x="297.8" y="1801.8" width="1752.40" height="1238.00" fill="none" stroke="#262626" stroke-width="1.9"/>
<path d="M473.04,3039.8 v-18.3 M473.04,1801.8 v18.3 M648.28,3039.8 v-18.3 M648.28,1801.8 v18.3 M823.52,3039.8 v-18.3 M823.52,1801.8 v18.3 M998.76,3039.8 v-18.3 M998.76,1801.8 v18.3 M1174.00,3039.8 v-18.3 M1174.00,1801.8 v18.3 M1349.24,3039.8 v-18.3 M1349.24,1801.8 v18.3 M1524.48,3039.8 v-18.3 M1524.48,1801.8 v18.3 M1699.72,3039.8 v-18.3 M1699.72,1801.8 v18.3 M1874.96,3039.8 v-18.3 M1874.96,1801.8 v18.3 M297.8,2862.94 h18.3 M2050.2,2862.94 h-18.3 M297.8,2686.09 h18.3 M2050.2,2686.09 h-18.3 M297.8,2509.23 h18.3 M2050.2,2509.23 h-18.3 M297.8,2332.37 h18.3 M2050.2,2332.37 h-18.3 M297.8,2155.51 h18.3 M2050.2,2155.51 h-18.3 M297.8,1978.66 h18.3 M2050.2,1978.66 h-18.3" stroke="#262626" stroke-width="1.9" fill="none"/>
<path d="M297.8,3040.0 L301.3,3039.3 L304.7,3038.1 L308.0,3036.3 L311.2,3034.2 L314.3,3031.7 L317.1,3028.9 L319.9,3025.9 L322.5,3022.8 L325.0,3019.6 L327.4,3016.3 L329.7,3012.9 L331.9,3009.5 L334.0,3006.0 L336.0,3002.5 L337.9,2998.9 L339.8,2995.3 L341.6,2991.7 L343.4,2988.1 L345.1,2984.4 L346.8,2980.8 L348.5,2977.1 L350.2,2973.4 L351.8,2969.7 L353.5,2966.0 L355.0,2962.3 L356.6,2958.6 L358.1,2954.9 L359.6,2951.2 L361.1,2947.5 L362.6,2943.7 L364.0,2940.0 L365.3,2936.2 L366.7,2932.4 L368.0,2928.7 L369.3,2924.9 L370.5,2921.1 L371.8,2917.3 L373.0,2913.5 L374.2,2909.7 L375.5,2905.8 L376.7,2902.0 L377.9,2898.2 L379.0,2894.4 L380.2,2890.6 L381.4,2886.7 L382.6,2882.9 L383.8,2879.1 L384.9,2875.3 L386.1,2871.4 L387.2,2867.6 L388.4,2863.8 L389.5,2859.9 L390.7,2856.1 L391.8,2852.2 L392.9,2848.4 L394.0,2844.6 L395.1,2840.7 L396.2,2836.9 L397.3,2833.0 L398.4,2829.2 L399.5,2825.3 L400.6,2821.5 L401.7,2817.6 L402.8,2813.8 L403.9,2809.9 L405.0,2806.1 L406.0,2802.2 L407.1,2798.4 L408.2,2794.5 L409.3,2790.7 L410.4,2786.8 L411.5,2783.0 L412.6,2779.1 L413.6,2775.3 L414.7,2771.4 L415.8,2767.6 L416.9,2763.7 L418.0,2759.9 L419.1,2756.0 L420.2,2752.2 L421.3,2748.3 L422.3,2744.5 L423.4,2740.6 L424.5,2736.8 L425.6,2732.9 L426.7,2729.1 L427.8,2725.2 L428.9,2721.4 L430.0,2717.5 L431.0,2713.7 L432.1,2709.8 L433.2,2706.0 L434.3,2702.1 L435.4,2698.3 L436.5,2694.4 L437.6,2690.6 L438.7,2686.8 L439.8,2682.9 L440.9,2679.1 L442.0,2675.2 L443.1,2671.4 L444.3,2667.5 L445.4,2663.7 L446.5,2659.8 L447.6,2656.0 L448.7,2652.2 L449.8,2648.3 L450.9,2644.5 L452.0,2640.6 L453.2,2636.8 L454.3,2632.9 L455.4,2629.1 L456.5,2625.3 L457.6,2621.4 L458.7,2617.6 L459.8,2613.7 L461.0,2609.9 L462.1,2606.0 L463.2,2602.2 L464.3,2598.4 L465.4,2594.5 L466.5,2590.7 L467.7,2586.8 L468.8,2583.0 L469.9,2579.2 L471.0,2575.3 L472.1,2571.5 L473.2,2567.6 L474.4,2563.8 L475.5,2560.0 L476.6,2556.1 L477.7,2552.3 L478.9,2548.4 L480.0,2544.6 L481.1,2540.8 L482.3,2536.9 L483.4,2533.1 L484.5,2529.3 L485.7,2525.4 L486.8,2521.6 L488.0,2517.8 L489.1,2513.9 L490.3,2510.1 L491.4,2506.3 L492.6,2502.4 L493.7,2498.6 L494.9,2494.8 L496.1,2490.9 L497.2,2487.1 L498.4,2483.3 L499.6,2479.5 L500.8,2475.7 L502.0,2471.8 L503.1,2468.0 L504.3,2464.2 L505.5,2460.4 L506.7,2456.6 L507.9,2452.7 L509.1,2448.9 L510.3,2445.1 L511.5,2441.3 L512.7,2437.5 L514.0,2433.7 L515.2,2429.9 L516.4,2426.0 L517.6,2422.2 L518.9,2418.4 L520.1,2414.6 L521.3,2410.8 L522.6,2407.0 L523.8,2403.2 L525.1,2399.4 L526.4,2395.6 L527.6,2391.8 L528.9,2388.0 L530.2,2384.3 L531.5,2380.5 L532.8,2376.7 L534.0,2372.9 L535.4,2369.1 L536.7,2365.3 L538.0,2361.6 L539.3,2357.8 L540.7,2354.0 L542.0,2350.2 L543.4,2346.5 L544.7,2342.7 L546.1,2339.0 L547.5,2335.2 L548.8,2331.5 L550.2,2327.7 L551.7,2324.0 L553.1,2320.2 L554.5,2316.5 L555.9,2312.8 L557.4,2309.0 L558.8,2305.3 L560.2,2301.6 L561.7,2297.8 L563.2,2294.1 L564.6,2290.4 L566.1,2286.7 L567.6,2283.0 L569.1,2279.2 L570.6,2275.5 L572.1,2271.8 L573.6,2268.1 L575.1,2264.4 L576.6,2260.7 L578.2,2257.0 L579.7,2253.3 L581.2,2249.6 L582.8,2245.9 L584.3,2242.2 L585.9,2238.6 L587.4,2234.9 L589.0,2231.2 L590.6,2227.5 L592.1,2223.8 L593.7,2220.2 L595.3,2216.5 L596.9,2212.8 L598.5,2209.2 L600.2,2205.5 L601.8,2201.9 L603.5,2198.2 L605.1,2194.6 L606.8,2191.0 L608.5,2187.3 L610.2,2183.7 L611.9,2180.1 L613.6,2176.5 L615.3,2172.9 L617.0,2169.3 L618.8,2165.7 L620.5,2162.1 L622.3,2158.5 L624.0,2154.9 L625.8,2151.3 L627.6,2147.7 L629.4,2144.1 L631.2,2140.5 L633.0,2137.0 L634.8,2133.4 L636.6,2129.9 L638.5,2126.3 L640.3,2122.8 L642.2,2119.2 L644.1,2115.7 L646.0,2112.2 L647.9,2108.7 L649.8,2105.2 L651.7,2101.7 L653.7,2098.2 L655.7,2094.7 L657.7,2091.2 L659.7,2087.8 L661.7,2084.4 L663.8,2080.9 L665.9,2077.5 L668.0,2074.1 L670.1,2070.7 L672.2,2067.3 L674.4,2064.0 L676.6,2060.6 L678.8,2057.3 L681.0,2054.0 L683.2,2050.7 L685.5,2047.4 L687.8,2044.1 L690.1,2040.8 L692.4,2037.6 L694.8,2034.3 L697.2,2031.1 L699.6,2027.9 L702.0,2024.8 L704.5,2021.6 L706.9,2018.5 L709.4,2015.4 L712.0,2012.3 L714.5,2009.2 L717.1,2006.1 L719.7,2003.1 L722.4,2000.1 L725.0,1997.1 L727.7,1994.1 L730.4,1991.2 L733.1,1988.3 L735.9,1985.4 L738.7,1982.5 L741.5,1979.6 L744.4,1976.8 L747.2,1974.0 L750.1,1971.3 L753.0,1968.5 L756.0,1965.8 L759.0,1963.2 L762.0,1960.5 L765.0,1957.9 L768.1,1955.4 L771.3,1952.9 L774.4,1950.4 L777.6,1948.1 L780.9,1945.8 L784.2,1943.5 L787.5,1941.4 L790.9,1939.3 L794.4,1937.3 L797.8,1935.3 L801.4,1933.4 L804.9,1931.6 L808.5,1929.8 L812.1,1928.0 L815.7,1926.2 L819.3,1924.4 L822.9,1922.7 L826.5,1921.0 L830.2,1919.3 L833.8,1917.6 L837.5,1916.0 L841.1,1914.4 L844.8,1912.8 L848.5,1911.3 L852.3,1909.9 L856.0,1908.5 L859.8,1907.2 L863.5,1905.9 L867.3,1904.7 L871.2,1903.6 L875.0,1902.4 L878.9,1901.4 L882.7,1900.4 L886.6,1899.4 L890.5,1898.4 L894.4,1897.6 L898.3,1896.7 L902.2,1895.9 L906.2,1895.2 L910.1,1894.5 L914.1,1893.8 L918.0,1893.2 L922.0,1892.7 L925.9,1892.2 L929.9,1891.7 L933.9,1891.3 L937.9,1890.9 L941.9,1890.5 L945.8,1890.2 L949.8,1889.9 L953.8,1889.6 L957.8,1889.4 L961.8,1889.2 L965.8,1889.0 L969.8,1888.8 L973.8,1888.7 L977.8,1888.5 L981.8,1888.4 L985.8,1888.3 L989.8,1888.2 L993.8,1888.2 L997.8,1888.1 L1001.8,1888.1 L1005.8,1888.0 L1009.8,1888.0 L1013.8,1888.0 L1017.8,1888.0 L1021.8,1888.1 L1025.8,1888.1 L1029.8,1888.2 L1033.8,1888.3 L1037.8,1888.4 L1041.8,1888.6 L1045.8,1888.7 L1049.8,1888.9 L1053.8,1889.1 L1057.8,1889.2 L1061.8,1889.4 L1065.8,1889.6 L1069.8,1889.8 L1073.8,1889.9 L1077.8,1890.1 L1081.8,1890.3 L1085.8,1890.4 L1089.8,1890.6 L1093.8,1890.8 L1097.8,1891.0 L1101.8,1891.2 L1105.7,1891.4 L1109.7,1891.6 L1113.7,1891.8 L1117.7,1892.1 L1121.7,1892.3 L1125.7,1892.5 L1129.7,1892.8 L1133.7,1893.0 L1137.7,1893.3 L1141.7,1893.5 L1145.7,1893.7 L1149.7,1894.0 L1153.7,1894.2 L1157.7,1894.5 L1161.7,1894.7 L1165.7,1894.9 L1169.6,1895.2 L1173.6,1895.4 L1177.6,1895.7 L1181.6,1895.9 L1185.6,1896.1 L1189.6,1896.3 L1193.6,1896.6 L1197.6,1896.8 L1201.6,1897.0 L1205.6,1897.2 L1209.6,1897.5 L1213.6,1897.7 L1217.6,1897.9 L1221.6,1898.1 L1225.6,1898.3 L1229.6,1898.5 L1233.6,1898.7 L1237.6,1898.9 L1241.5,1899.2 L1245.5,1899.4 L1249.5,1899.6 L1253.5,1899.8 L1257.5,1900.0 L1261.5,1900.2 L1265.5,1900.4 L1269.5,1900.6 L1273.5,1900.8 L1277.5,1901.0 L1281.5,1901.2 L1285.5,1901.4 L1289.5,1901.6 L1293.5,1901.8 L1297.5,1901.9 L1301.5,1902.1 L1305.5,1902.3 L1309.5,1902.5 L1313.5,1902.6 L1317.5,1902.8 L1321.5,1903.0 L1325.5,1903.1 L1329.5,1903.3 L1333.5,1903.5 L1337.5,1903.6 L1341.5,1903.8 L1345.4,1903.9 L1349.4,1904.0 L1353.4,1904.2 L1357.4,1904.3 L1361.4,1904.5 L1365.4,1904.6 L1369.4,1904.7 L1373.4,1904.8 L1377.4,1905.0 L1381.4,1905.1 L1385.4,1905.2 L1389.4,1905.3 L1393.4,1905.4 L1397.4,1905.5 L1401.4,1905.6 L1405.4,1905.7 L1409.4,1905.8 L1413.4,1905.9 L1417.4,1906.0 L1421.4,1906.1 L1425.4,1906.2 L1429.4,1906.2 L1433.4,1906.3 L1437.4,1906.4 L1441.4,1906.5 L1445.4,1906.6 L1449.4,1906.6 L1453.4,1906.7 L1457.4,1906.8 L1461.4,1906.8 L1465.4,1906.9 L1469.4,1906.9 L1473.4,1907.0 L1477.4,1907.1 L1481.4,1907.1 L1485.4,1907.2 L1489.4,1907.2 L1493.4,1907.2 L1497.4,1907.3 L1501.4,1907.3 L1505.4,1907.4 L1509.4,1907.4 L1513.4,1907.4 L1517.4,1907.5 L1521.4,1907.5 L1525.4,1907.5 L1529.4,1907.5 L1533.4,1907.6 L1537.4,1907.6 L1541.4,1907.6 L1545.4,1907.6 L1549.4,1907.6 L1553.4,1907.7 L1557.4,1907.7 L1561.4,1907.7 L1565.4,1907.7 L1569.4,1907.7 L1573.4,1907.7 L1577.4,1907.7 L1581.4,1907.7 L1585.4,1907.8 L1589.4,1907.8 L1593.4,1907.8 L1597.4,1907.8 L1601.4,1907.8 L1605.4,1907.8 L1609.4,1907.8 L1613.4,1907.8 L1617.4,1907.8 L1621.4,1907.8 L1625.4,1907.8 L1629.4,1907.8 L1633.4,1907.8 L1637.4,1907.8 L1641.4,1907.8 L1645.4,1907.8 L1649.4,1907.8 L1653.4,1907.9 L1657.4,1907.9 L1661.4,1907.9 L1665.4,1907.9 L1669.4,1907.9 L1673.4,1907.9 L1677.4,1907.9 L1681.4,1907.9 L1685.4,1907.9 L1689.5,1907.9 L1693.5,1907.9 L1697.5,1907.9 L1701.5,1907.9 L1705.5,1907.9 L1709.5,1907.9 L1713.5,1907.9 L1717.5,1907.9 L1721.5,1907.9 L1725.5,1907.9 L1729.5,1907.9 L1733.5,1907.9 L1737.5,1907.9 L1741.5,1907.9 L1745.5,1907.9 L1749.5,1907.9 L1753.5,1907.9 L1757.5,1907.9 L1761.5,1907.9 L1765.5,1907.9 L1769.5,1907.9 L1773.5,1907.9 L1777.5,1907.9 L1781.5,1907.9 L1785.5,1907.9 L1789.5,1907.9 L1793.5,1907.9 L1797.5,1907.9 L1801.5,1907.9 L1805.5,1907.9 L1809.5,1907.9 L1813.5,1907.9 L1817.5,1907.9 L1821.5,1907.9 L1825.5,1907.9 L1829.5,1907.9 L1833.5,1907.9 L1837.5,1907.9 L1841.5,1907.9 L1845.5,1907.9 L1849.5,1907.9 L1853.5,1907.9 L1857.5,1907.9 L1861.5,1907.9 L1865.5,1907.9 L1869.5,1907.9 L1873.5,1907.9 L1877.5,1907.9 L1881.5,1907.9 L1885.5,1907.9 L1889.5,1907.9 L1893.5,1907.9 L1897.5,1907.9 L1901.5,1907.9 L1905.5,1907.9 L1909.5,1907.9 L1913.5,1907.9 L1917.5,1907.9 L1921.5,1907.9 L1925.5,1907.9 L1929.5,1907.9 L1933.5,1907.9 L1937.5,1907.9 L1941.5,1907.9 L1945.5,1907.9 L1949.5,1907.9 L1953.5,1907.9 L1957.5,1907.9 L1961.5,1907.9 L1965.5,1907.9 L1969.5,1907.9 L1973.5,1907.9 L1977.5,1907.9 L1981.5,1907.9 L1985.5,1907.9 L1989.5,1907.9 L1993.5,1907.9 L1997.5,1907.9 L2001.5,1907.9 L2005.5,1907.9 L2009.5,1907.9 L2013.5,1907.9 L2017.5,1907.9 L2021.5,1907.9 L2025.5,1907.9 L2029.5,1907.9 L2033.5,1907.9 L2037.5,1907.9 L2041.5,1907.9 L2045.5,1907.9 L2049.5,1907.9 L2050.5,1907.9" fill="none" stroke="#000" stroke-width="7.8" stroke-linejoin="round" stroke-linecap="round"/>
<path d="M297.8,3040.0 L301.3,3039.3 L304.7,3038.1 L308.0,3036.3 L311.2,3034.2 L314.3,3031.7 L317.1,3028.9 L319.9,3025.9 L322.5,3022.8 L325.0,3019.6 L327.4,3016.3 L329.7,3012.9 L331.9,3009.5 L334.0,3006.0 L336.0,3002.5 L337.9,2998.9 L339.8,2995.3 L341.6,2991.7 L343.4,2988.1 L345.1,2984.4 L346.8,2980.8 L348.5,2977.1 L350.2,2973.4 L351.8,2969.7 L353.5,2966.0 L355.0,2962.3 L356.6,2958.6 L358.1,2954.9 L359.6,2951.2 L361.1,2947.5 L362.6,2943.7 L364.0,2940.0 L365.3,2936.2 L366.7,2932.4 L368.0,2928.7 L369.3,2924.9 L370.5,2921.1 L371.8,2917.3 L373.0,2913.5 L374.2,2909.7 L375.5,2905.8 L376.7,2902.0 L377.9,2898.2 L379.0,2894.4 L380.2,2890.6 L381.4,2886.7 L382.6,2882.9 L383.8,2879.1 L384.9,2875.3 L386.1,2871.4 L387.2,2867.6 L388.4,2863.8 L389.5,2859.9 L390.7,2856.1 L391.8,2852.2 L392.9,2848.4 L394.0,2844.6 L395.1,2840.7 L396.2,2836.9 L397.3,2833.0 L398.4,2829.2 L399.5,2825.3 L400.6,2821.5 L401.7,2817.6 L402.8,2813.8 L403.9,2809.9 L405.0,2806.1 L406.0,2802.2 L407.1,2798.4 L408.2,2794.5 L409.3,2790.7 L410.4,2786.8 L411.5,2783.0 L412.6,2779.1 L413.6,2775.3 L414.7,2771.4 L415.8,2767.6 L416.9,2763.7 L418.0,2759.9 L419.1,2756.0 L420.2,2752.2 L421.3,2748.3 L422.3,2744.5 L423.4,2740.6 L424.5,2736.8 L425.6,2732.9 L426.7,2729.1 L427.8,2725.2 L428.9,2721.4 L430.0,2717.5 L431.0,2713.7 L432.1,2709.8 L433.2,2706.0 L434.3,2702.1 L435.4,2698.3 L436.5,2694.4 L437.6,2690.6 L438.7,2686.8 L439.8,2682.9 L440.9,2679.1 L442.0,2675.2 L443.1,2671.4 L444.3,2667.5 L445.4,2663.7 L446.5,2659.8 L447.6,2656.0 L448.7,2652.2 L449.8,2648.3 L450.9,2644.5 L452.0,2640.6 L453.2,2636.8 L454.3,2632.9 L455.4,2629.1 L456.5,2625.3 L457.6,2621.4 L458.7,2617.6 L459.8,2613.7 L461.0,2609.9 L462.1,2606.0 L463.2,2602.2 L464.3,2598.4 L465.4,2594.5 L466.5,2590.7 L467.7,2586.8 L468.8,2583.0 L469.9,2579.2 L471.0,2575.3 L472.1,2571.5 L473.2,2567.6 L474.4,2563.8 L475.5,2560.0 L476.6,2556.1 L477.7,2552.3 L478.9,2548.4 L480.0,2544.6 L481.1,2540.8 L482.3,2536.9 L483.4,2533.1 L484.5,2529.3 L485.7,2525.4 L486.8,2521.6 L488.0,2517.8 L489.1,2513.9 L490.3,2510.1 L491.4,2506.3 L492.6,2502.4 L493.7,2498.6 L494.9,2494.8 L496.1,2490.9 L497.2,2487.1 L498.4,2483.3 L499.6,2479.5 L500.8,2475.7 L502.0,2471.8 L503.1,2468.0 L504.3,2464.2 L505.5,2460.4 L506.7,2456.6 L507.9,2452.7 L509.1,2448.9 L510.3,2445.1 L511.5,2441.3 L512.7,2437.5 L514.0,2433.7 L515.2,2429.9 L516.4,2426.0 L517.6,2422.2 L518.9,2418.4 L520.1,2414.6 L521.3,2410.8 L522.6,2407.0 L523.8,2403.2 L525.1,2399.4 L526.4,2395.6 L527.6,2391.8 L528.9,2388.0 L530.2,2384.3 L531.5,2380.5 L532.8,2376.7 L534.0,2372.9 L535.4,2369.1 L536.7,2365.3 L538.0,2361.6 L539.3,2357.8 L540.7,2354.0 L542.0,2350.2 L543.4,2346.5 L544.7,2342.7 L546.1,2339.0 L547.5,2335.2 L548.8,2331.5 L550.2,2327.7 L551.7,2324.0 L553.1,2320.2 L554.5,2316.5 L555.9,2312.8 L557.4,2309.0 L558.8,2305.3 L560.2,2301.6 L561.7,2297.8 L563.2,2294.1 L564.6,2290.4 L566.1,2286.7 L567.6,2283.0 L569.1,2279.2 L570.6,2275.5 L572.1,2271.8 L573.6,2268.1 L575.1,2264.4 L576.6,2260.7 L578.2,2257.0 L579.7,2253.3 L581.2,2249.6 L582.8,2245.9 L584.3,2242.2 L585.9,2238.6 L587.4,2234.9 L589.0,2231.2 L590.6,2227.5 L592.1,2223.8 L593.7,2220.2 L595.3,2216.5 L596.9,2212.8 L598.5,2209.2 L600.2,2205.5 L601.8,2201.9 L603.5,2198.2 L605.1,2194.6 L606.8,2191.0 L608.5,2187.3 L610.2,2183.7 L611.9,2180.1 L613.6,2176.5 L615.3,2172.9 L617.0,2169.3 L618.8,2165.7 L620.5,2162.1 L622.3,2158.5 L624.0,2154.9 L625.8,2151.3 L627.6,2147.7 L629.4,2144.1 L631.2,2140.5 L633.0,2137.0 L634.8,2133.4 L636.6,2129.9 L638.5,2126.3 L640.3,2122.8 L642.2,2119.2 L644.1,2115.7 L646.0,2112.2 L647.9,2108.7 L649.8,2105.2 L651.7,2101.7 L653.7,2098.2 L655.7,2094.7 L657.7,2091.2 L659.7,2087.8 L661.7,2084.4 L663.8,2080.9 L665.9,2077.5 L668.0,2074.1 L670.1,2070.7 L672.2,2067.3 L674.4,2064.0 L676.6,2060.6 L678.8,2057.3 L681.0,2054.0 L683.2,2050.7 L685.5,2047.4 L687.8,2044.1 L690.1,2040.8 L692.4,2037.6 L694.8,2034.3 L697.2,2031.1 L699.6,2027.9 L702.0,2024.8 L704.5,2021.6 L706.9,2018.5 L709.4,2015.4 L712.0,2012.3 L714.5,2009.2 L717.1,2006.1 L719.7,2003.1 L722.4,2000.1 L725.0,1997.1 L727.7,1994.1 L730.4,1991.2 L733.1,1988.3 L735.9,1985.4 L738.7,1982.5 L741.5,1979.6 L744.4,1976.8 L747.2,1974.0 L750.1,1971.3 L753.0,1968.5 L756.0,1965.8 L759.0,1963.2 L762.0,1960.5 L765.0,1957.9 L768.1,1955.4 L771.3,1952.9 L774.4,1950.4 L777.6,1948.1 L780.9,1945.8 L784.2,1943.5 L787.5,1941.4 L790.9,1939.3 L794.4,1937.3 L797.8,1935.3 L801.4,1933.4 L804.9,1931.6 L808.5,1929.8 L812.1,1928.0 L815.7,1926.2 L819.3,1924.4 L822.9,1922.7 L826.5,1921.0 L830.2,1919.3 L833.8,1917.6 L837.5,1916.0 L841.1,1914.4 L844.8,1912.8 L848.5,1911.3 L852.3,1909.9 L856.0,1908.5 L859.8,1907.2 L863.5,1905.9 L867.3,1904.7 L871.2,1903.6 L875.0,1902.4 L878.9,1901.4 L882.7,1900.4 L886.6,1899.4 L890.5,1898.4 L894.4,1897.6 L898.3,1896.7 L902.2,1895.9 L906.2,1895.2 L910.1,1894.5 L914.1,1893.8 L918.0,1893.2 L922.0,1892.7 L925.9,1892.2 L929.9,1891.7 L933.9,1891.3 L937.9,1890.9 L941.9,1890.5 L945.8,1890.2 L949.8,1889.9 L953.8,1889.6 L957.8,1889.4 L961.8,1889.2 L965.8,1889.0 L969.8,1888.8 L973.8,1888.7 L977.8,1888.5 L981.8,1888.4 L985.8,1888.3 L989.8,1888.2 L993.8,1888.2 L997.8,1888.1 L1001.8,1888.1 L1005.8,1888.0 L1009.8,1888.0 L1013.8,1888.0 L1017.8,1888.0 L1021.8,1888.1 L1025.8,1888.1 L1029.8,1888.2 L1033.8,1888.3 L1037.8,1888.4 L1041.8,1888.6 L1045.8,1888.7 L1049.8,1888.9 L1053.8,1889.1 L1057.8,1889.2 L1061.8,1889.4 L1065.8,1889.6 L1069.8,1889.8 L1073.8,1889.9 L1077.8,1890.1 L1081.8,1890.3 L1085.8,1890.4 L1089.8,1890.6 L1093.8,1890.8 L1097.8,1891.0 L1101.8,1891.2 L1105.7,1891.4 L1109.7,1891.6 L1113.7,1891.8 L1117.7,1892.1 L1121.7,1892.3 L1125.7,1892.5 L1129.7,1892.8 L1133.7,1893.0 L1137.7,1893.3 L1141.7,1893.5 L1145.7,1893.7 L1149.7,1894.0 L1153.7,1894.2 L1157.7,1894.5 L1161.7,1894.7 L1165.7,1894.9 L1169.6,1895.2 L1173.6,1895.4 L1177.6,1895.7 L1181.6,1895.9 L1185.6,1896.1 L1189.6,1896.3 L1193.6,1896.6 L1197.6,1896.8 L1201.6,1897.0 L1205.6,1897.2 L1209.6,1897.5 L1213.6,1897.7 L1217.6,1897.9 L1221.6,1898.1 L1225.6,1898.3 L1229.6,1898.5 L1233.6,1898.7 L1237.6,1898.9 L1241.5,1899.2 L1245.5,1899.4 L1249.5,1899.6 L1253.5,1899.8 L1257.5,1900.0 L1261.5,1900.2 L1265.5,1900.4 L1269.5,1900.6 L1273.5,1900.8 L1277.5,1901.0 L1281.5,1901.2 L1285.5,1901.4 L1289.5,1901.6 L1293.5,1901.8 L1297.5,1901.9 L1301.5,1902.1 L1305.5,1902.3 L1309.5,1902.5 L1313.5,1902.6 L1317.5,1902.8 L1321.5,1903.0 L1325.5,1903.1 L1329.5,1903.3 L1333.5,1903.5 L1337.5,1903.6 L1341.5,1903.8 L1345.4,1903.9 L1349.4,1904.0 L1353.4,1904.2 L1357.4,1904.3 L1361.4,1904.5 L1365.4,1904.6 L1369.4,1904.7 L1373.4,1904.8 L1377.4,1905.0 L1381.4,1905.1 L1385.4,1905.2 L1389.4,1905.3 L1393.4,1905.4 L1397.4,1905.5 L1401.4,1905.6 L1405.4,1905.7 L1409.4,1905.8 L1413.4,1905.9 L1417.4,1906.0 L1421.4,1906.1 L1425.4,1906.2 L1429.4,1906.2 L1433.4,1906.3 L1437.4,1906.4 L1441.4,1906.5 L1445.4,1906.6 L1449.4,1906.6 L1453.4,1906.7 L1457.4,1906.8 L1461.4,1906.8 L1465.4,1906.9 L1469.4,1906.9 L1473.4,1907.0 L1477.4,1907.1 L1481.4,1907.1 L1485.4,1907.2 L1489.4,1907.2 L1493.4,1907.2 L1497.4,1907.3 L1501.4,1907.3 L1505.4,1907.4 L1509.4,1907.4 L1513.4,1907.4 L1517.4,1907.5 L1521.4,1907.5 L1525.4,1907.5 L1529.4,1907.5 L1533.4,1907.6 L1537.4,1907.6 L1541.4,1907.6 L1545.4,1907.6 L1549.4,1907.6 L1553.4,1907.7 L1557.4,1907.7 L1561.4,1907.7 L1565.4,1907.7 L1569.4,1907.7 L1573.4,1907.7 L1577.4,1907.7 L1581.4,1907.7 L1585.4,1907.8 L1589.4,1907.8 L1593.4,1907.8 L1597.4,1907.8 L1601.4,1907.8 L1605.4,1907.8 L1609.4,1907.8 L1613.4,1907.8 L1617.4,1907.8 L1621.4,1907.8 L1625.4,1907.8 L1629.4,1907.8 L1633.4,1907.8 L1637.4,1907.8 L1641.4,1907.8 L1645.4,1907.8 L1649.4,1907.8 L1653.4,1907.9 L1657.4,1907.9 L1661.4,1907.9 L1665.4,1907.9 L1669.4,1907.9 L1673.4,1907.9 L1677.4,1907.9 L1681.4,1907.9 L1685.4,1907.9 L1689.5,1907.9 L1693.5,1907.9 L1697.5,1907.9 L1701.5,1907.9 L1705.5,1907.9 L1709.5,1907.9 L1713.5,1907.9 L1717.5,1907.9 L1721.5,1907.9 L1725.5,1907.9 L1729.5,1907.9 L1733.5,1907.9 L1737.5,1907.9 L1741.5,1907.9 L1745.5,1907.9 L1749.5,1907.9 L1753.5,1907.9 L1757.5,1907.9 L1761.5,1907.9 L1765.5,1907.9 L1769.5,1907.9 L1773.5,1907.9 L1777.5,1907.9 L1781.5,1907.9 L1785.5,1907.9 L1789.5,1907.9 L1793.5,1907.9 L1797.5,1907.9 L1801.5,1907.9 L1805.5,1907.9 L1809.5,1907.9 L1813.5,1907.9 L1817.5,1907.9 L1821.5,1907.9 L1825.5,1907.9 L1829.5,1907.9 L1833.5,1907.9 L1837.5,1907.9 L1841.5,1907.9 L1845.5,1907.9 L1849.5,1907.9 L1853.5,1907.9 L1857.5,1907.9 L1861.5,1907.9 L1865.5,1907.9 L1869.5,1907.9 L1873.5,1907.9 L1877.5,1907.9 L1881.5,1907.9 L1885.5,1907.9 L1889.5,1907.9 L1893.5,1907.9 L1897.5,1907.9 L1901.5,1907.9 L1905.5,1907.9 L1909.5,1907.9 L1913.5,1907.9 L1917.5,1907.9 L1921.5,1907.9 L1925.5,1907.9 L1929.5,1907.9 L1933.5,1907.9 L1937.5,1907.9 L1941.5,1907.9 L1945.5,1907.9 L1949.5,1907.9 L1953.5,1907.9 L1957.5,1907.9 L1961.5,1907.9 L1965.5,1907.9 L1969.5,1907.9 L1973.5,1907.9 L1977.5,1907.9 L1981.5,1907.9 L1985.5,1907.9 L1989.5,1907.9 L1993.5,1907.9 L1997.5,1907.9 L2001.5,1907.9 L2005.5,1907.9 L2009.5,1907.9 L2013.5,1907.9 L2017.5,1907.9 L2021.5,1907.9 L2025.5,1907.9 L2029.5,1907.9 L2033.5,1907.9 L2037.5,1907.9 L2041.5,1907.9 L2045.5,1907.9 L2049.5,1907.9 L2050.5,1907.9" fill="none" stroke="#FF0000" stroke-width="11.4" stroke-dasharray="45.088 45.088" stroke-linejoin="round"/>
<text x="197.38" y="1843.38" font-family="'Liberation Sans', sans-serif" font-weight="normal" font-size="55.50" fill="#262626">3.5</text>
<text x="243.86" y="2003.08" font-family="'Liberation Sans', sans-serif" font-weight="normal" font-size="55.50" fill="#262626">3</text>
<text x="197.38" y="2176.68" font-family="'Liberation Sans', sans-serif" font-weight="normal" font-size="55.50" fill="#262626">2.5</text>
<text x="244.27" y="2348.76" font-family="'Liberation Sans', sans-serif" font-weight="normal" font-size="55.50" fill="#262626">2</text>
<text x="197.38" y="2532.10" font-family="'Liberation Sans', sans-serif" font-weight="normal" font-size="55.50" fill="#262626">1.5</text>
<text x="251.23" y="2704.98" font-family="'Liberation Sans', sans-serif" font-weight="normal" font-size="55.50" fill="#262626">1</text>
<text x="197.38" y="2881.08" font-family="'Liberation Sans', sans-serif" font-weight="normal" font-size="55.50" fill="#262626">0.5</text>
<text x="254.53" y="3044.68" font-family="'Liberation Sans', sans-serif" font-weight="normal" font-size="55.50" fill="#262626">0</text>
<text x="293.93" y="3102.73" font-family="'Liberation Sans', sans-serif" font-weight="normal" font-size="55.50" fill="#262626">0</text>
<text x="433.31" y="3102.73" font-family="'Liberation Sans', sans-serif" font-weight="normal" font-size="55.50" fill="#262626">0.2</text>
<text x="606.68" y="3102.73" font-family="'Liberation Sans', sans-serif" font-weight="normal" font-size="55.50" fill="#262626">0.4</text>
<text x="783.30" y="3102.73" font-family="'Liberation Sans', sans-serif" font-weight="normal" font-size="55.50" fill="#262626">0.6</text>
<text x="960.10" y="3102.73" font-family="'Liberation Sans', sans-serif" font-weight="normal" font-size="55.50" fill="#262626">0.8</text>
<text x="1163.74" y="3102.73" font-family="'Liberation Sans', sans-serif" font-weight="normal" font-size="55.50" fill="#262626">1</text>
<text x="1312.73" y="3103.01" font-family="'Liberation Sans', sans-serif" font-weight="normal" font-size="55.50" fill="#262626">1.2</text>
<text x="1487.91" y="3102.73" font-family="'Liberation Sans', sans-serif" font-weight="normal" font-size="55.50" fill="#262626">1.4</text>
<text x="1663.03" y="3102.73" font-family="'Liberation Sans', sans-serif" font-weight="normal" font-size="55.50" fill="#262626">1.6</text>
<text x="1838.43" y="3102.73" font-family="'Liberation Sans', sans-serif" font-weight="normal" font-size="55.50" fill="#262626">1.8</text>
<text x="2041.10" y="3103.01" font-family="'Liberation Sans', sans-serif" font-weight="normal" font-size="55.50" fill="#262626">2</text>
<text x="299.04" y="1798.51" font-family="'Liberation Sans', sans-serif" font-weight="bold" font-size="45.00" fill="#000">×</text>
<text x="335.06" y="1799.94" font-family="'Liberation Sans', sans-serif" font-weight="normal" font-size="55.50" fill="#262626">10</text>
<text x="397.44" y="1760.58" font-family="'Liberation Sans', sans-serif" font-weight="normal" font-size="41.60" fill="#262626">-5</text>
<text x="996.11" y="3184.40" font-family="'Liberation Sans', sans-serif" font-weight="normal" font-size="56.00" fill="#000" textLength="391.78" lengthAdjust="spacingAndGlyphs">Time (seconds)</text>
<text transform="matrix(0.7301,0,0,0.8022,1023.20,3298.65)" x="0" y="0" font-family="'Liberation Serif', serif" font-weight="normal" font-size="100" fill="#000">(</text>
<text transform="matrix(0.8577,0,0,0.8298,1047.93,3298.87)" x="0" y="0" font-family="'Liberation Serif', serif" font-weight="bold" font-size="100" fill="#000">b</text>
<text transform="matrix(0.7262,0,0,0.8022,1096.64,3298.65)" x="0" y="0" font-family="'Liberation Serif', serif" font-weight="normal" font-size="100" fill="#000">)</text>
<g transform="matrix(0,-1,1,0,0,0)">
<text x="-2629.42" y="153.50" font-family="'Liberation Sans', sans-serif" font-weight="normal" font-size="56.50" fill="#000" textLength="339.28" lengthAdjust="spacingAndGlyphs">Displacement</text>
<text x="-2264.64" y="144.00" font-family="'Liberation Serif', serif" font-weight="normal" font-size="56.00" fill="#000" textLength="27.23" lengthAdjust="spacingAndGlyphs">h</text>
<text x="-2198.19" y="144.00" font-family="'Liberation Serif', serif" font-weight="normal" font-size="56.00" fill="#000" textLength="46.09" lengthAdjust="spacingAndGlyphs">m</text>
<text transform="matrix(0.6369,0,0,0.7824,-2224.51,148.57)" x="0" y="0" font-family="'Liberation Serif', serif" font-weight="normal" font-size="100" fill="#000">(</text>
<text transform="matrix(0.6330,0,0,0.7824,-2152.56,148.57)" x="0" y="0" font-family="'Liberation Serif', serif" font-weight="normal" font-size="100" fill="#000">)</text>
</g>
<text x="531.65" y="2141.90" font-family="'Liberation Serif', serif" font-weight="normal" font-size="54.00" fill="#000">T</text>
<text x="560.02" y="2155.60" font-family="'Liberation Serif', serif" font-weight="normal" font-size="29.00" fill="#000">r2</text>
<text x="645.85" y="2202.30" font-family="'Liberation Serif', serif" font-weight="normal" font-size="54.00" fill="#000">T</text>
<text x="674.22" y="2216.00" font-family="'Liberation Serif', serif" font-weight="normal" font-size="29.00" fill="#000">r1</text>
<text x="738.15" y="1902.30" font-family="'Liberation Serif', serif" font-weight="normal" font-size="54.00" fill="#000">T</text>
<text x="765.94" y="1916.80" font-family="'Liberation Serif', serif" font-weight="normal" font-size="29.00" fill="#000">s2</text>
<text x="841.35" y="1983.40" font-family="'Liberation Serif', serif" font-weight="normal" font-size="54.00" fill="#000">T</text>
<text x="869.64" y="1997.00" font-family="'Liberation Serif', serif" font-weight="normal" font-size="29.00" fill="#000">s1</text>
<circle cx="622.20" cy="2158.30" r="10.5" fill="#000"/>
<circle cx="818.20" cy="1924.90" r="10.5" fill="#000"/>
<rect x="1534.5" y="2221.6" width="491.9" height="90.5" fill="#fff" stroke="#000" stroke-width="1.5"/>
<text x="1587.35" y="2285.00" font-family="'Liberation Sans', sans-serif" font-weight="normal" font-size="48.00" fill="#000" textLength="386.54" lengthAdjust="spacingAndGlyphs">(Sha et al., 2020)</text>
<rect x="1564.7" y="2367.3" width="461.7" height="199.2" fill="#fff" stroke="#000" stroke-width="1.5"/>
<path d="M1585.8,2416.9 H1784.1" stroke="#000" stroke-width="7.8" stroke-linecap="round" fill="none"/>
<path d="M1585.8,2516.9 H1780" stroke="#FF0000" stroke-width="7.8" stroke-linecap="round" stroke-dasharray="18.2 24.1" fill="none"/>
<text x="1787.06" y="2437.10" font-family="'Liberation Serif', serif" font-weight="normal" font-size="67.00" fill="#000">P</text>
<text x="1818.46" y="2455.20" font-family="'Liberation Serif', serif" font-weight="normal" font-size="36.00" fill="#000">s</text>
<text x="1854.03" y="2437.10" font-family="'Liberation Serif', serif" font-weight="normal" font-size="68.00" fill="#000" textLength="163.04" lengthAdjust="spacingAndGlyphs">1MPa</text>
<text x="1787.06" y="2533.30" font-family="'Liberation Serif', serif" font-weight="normal" font-size="67.00" fill="#000">P</text>
<text x="1818.46" y="2551.40" font-family="'Liberation Serif', serif" font-weight="normal" font-size="36.00" fill="#000">s</text>
<text x="1850.94" y="2533.30" font-family="'Liberation Serif', serif" font-weight="normal" font-size="68.00" fill="#000" textLength="174.79" lengthAdjust="spacingAndGlyphs">7MPa</text>
<text x="1724.88" y="2672.50" font-family="'Liberation Serif', serif" font-weight="normal" font-size="70.00" fill="#000">T</text>
<text x="1761.76" y="2689.60" font-family="'Liberation Serif', serif" font-weight="normal" font-size="37.00" fill="#000">r1</text>
<text x="1796.80" y="2672.50" font-family="'Liberation Serif', serif" font-weight="normal" font-size="70.00" fill="#000" textLength="46.27" lengthAdjust="spacingAndGlyphs">=</text>
<text x="1838.76" y="2672.50" font-family="'Liberation Serif', serif" font-weight="normal" font-size="70.00" fill="#000" textLength="158.50" lengthAdjust="spacingAndGlyphs">0.384</text>
<text x="1727.88" y="2763.70" font-family="'Liberation Serif', serif" font-weight="normal" font-size="70.00" fill="#000">T</text>
<text x="1763.72" y="2780.00" font-family="'Liberation Serif', serif" font-weight="normal" font-size="37.00" fill="#000">s1</text>
<text x="1800.90" y="2763.70" font-family="'Liberation Serif', serif" font-weight="normal" font-size="70.00" fill="#000" textLength="46.27" lengthAdjust="spacingAndGlyphs">=</text>
<text x="1842.52" y="2763.70" font-family="'Liberation Serif', serif" font-weight="normal" font-size="70.00" fill="#000" textLength="161.02" lengthAdjust="spacingAndGlyphs">0.582</text>
<text x="1727.88" y="2854.90" font-family="'Liberation Serif', serif" font-weight="normal" font-size="70.00" fill="#000">T</text>
<text x="1765.16" y="2872.60" font-family="'Liberation Serif', serif" font-weight="normal" font-size="37.00" fill="#000">r2</text>
<text x="1803.30" y="2854.90" font-family="'Liberation Serif', serif" font-weight="normal" font-size="70.00" fill="#000" textLength="46.27" lengthAdjust="spacingAndGlyphs">=</text>
<text x="1845.56" y="2854.90" font-family="'Liberation Serif', serif" font-weight="normal" font-size="70.00" fill="#000" textLength="158.50" lengthAdjust="spacingAndGlyphs">0.384</text>
<text x="1727.88" y="2942.40" font-family="'Liberation Serif', serif" font-weight="normal" font-size="70.00" fill="#000">T</text>
<text x="1764.42" y="2958.70" font-family="'Liberation Serif', serif" font-weight="normal" font-size="37.00" fill="#000">s2</text>
<text x="1803.30" y="2942.40" font-family="'Liberation Serif', serif" font-weight="normal" font-size="70.00" fill="#000" textLength="46.27" lengthAdjust="spacingAndGlyphs">=</text>
<text x="1845.51" y="2942.40" font-family="'Liberation Serif', serif" font-weight="normal" font-size="70.00" fill="#000" textLength="161.44" lengthAdjust="spacingAndGlyphs">0.582</text>
</g>
</svg>
</body></html>
